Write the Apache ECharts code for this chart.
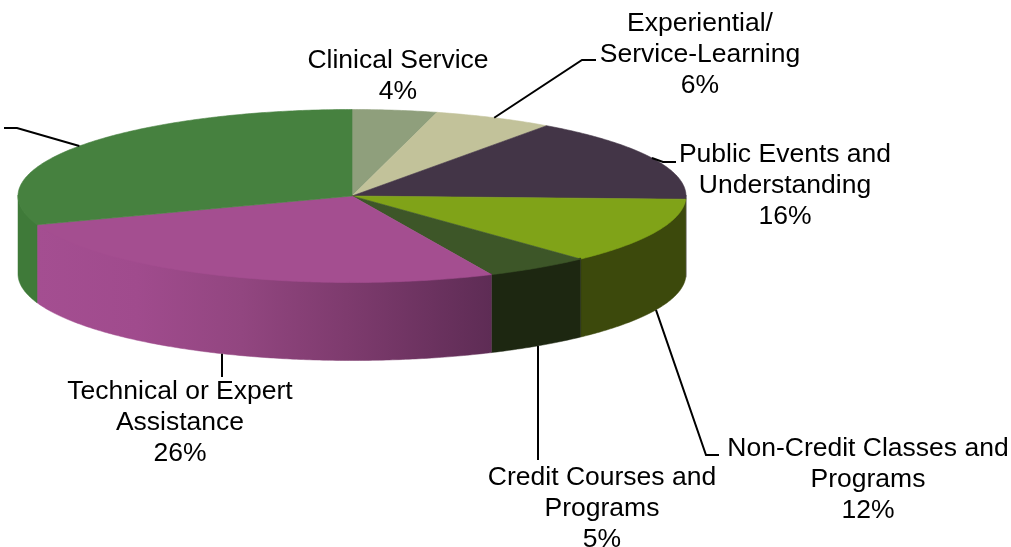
<!DOCTYPE html>
<html>
<head>
<meta charset="utf-8">
<style>
  html, body { margin: 0; padding: 0; background: #fff; }
  #main { width: 1011px; height: 547px; }
</style>
</head>
<body>
<div id="main"></div>
<script src="https://cdn.jsdelivr.net/npm/echarts@6/dist/echarts.min.js"></script>
<script>
// slices go clockwise from 12 o'clock. last label runs off the left edge in the original, no text visible
var categories = [
  "Clinical Service",
  "Experiential/\nService-Learning",
  "Public Events and\nUnderstanding",
  "Non-Credit Classes and\nPrograms",
  "Credit Courses and\nPrograms",
  "Technical or Expert\nAssistance",
  ""
];
// estimated from the slice edges, they round to the printed percentages
var values = [4.1, 5.8, 15.7, 12.4, 5.15, 26.45, 30.4];
var topColors = ["#8f9f7c", "#c2c29a", "#433547", "#80a318", "#3d5628", "#a44e90", "#46813f"];
var wallColors = ["#6f7c60", "#97977a", "#33283a", "#3c490c", "#1d2711", null, "#3f7a39"];

// magenta wall is shaded left to right
var techWallStops = [
  { offset: 0, color: "#a44e91" },
  { offset: 0.22, color: "#a04b8d" },
  { offset: 0.45, color: "#924680" },
  { offset: 0.68, color: "#7e3b6e" },
  { offset: 1, color: "#5e2c55" }
];

// pie projection
var cx = 352, cy = 196, rx = 334, ry = 86.5, depth = 78;

// label centres and leader elbows, same order as categories
var labelCenters = [[398, 76], [700, 55], [785, 186], [868, 480], [602, 509], [180, 423], null];
var leaderBends = [
  null,
  [[582, 60], [596, 60]],
  [[663, 162], [676, 162]],
  [[706, 455], [719, 455]],
  [[538, 460]],
  [[222, 377]],
  [[17, 128], [4, 128]]
];
// these two drop straight down, so the start is taken on the rim under the bend
var verticalLeader = [false, false, false, false, true, true, false];

var total = values.reduce(function (a, b) { return a + b; }, 0);
var startAngles = [];
values.reduce(function (sum, v, i) {
  startAngles[i] = (sum / total) * Math.PI * 2;
  return sum + v;
}, 0);

function rimPoint(angle, dy) {
  return [cx + rx * Math.sin(angle), cy - ry * Math.cos(angle) + (dy || 0)];
}

function arcPoints(a0, a1, dy) {
  var steps = Math.max(2, Math.ceil((a1 - a0) / 0.01));
  var pts = [];
  for (var i = 0; i <= steps; i++) {
    pts.push(rimPoint(a0 + ((a1 - a0) * i) / steps, dy));
  }
  return pts;
}

function renderSlice(params, api) {
  var i = params.dataIndex;
  var a0 = startAngles[i];
  var a1 = a0 + (api.value(0) / total) * Math.PI * 2;
  var children = [];

  // front wall, only the part between 3 and 9 o'clock faces us
  var w0 = Math.max(a0, Math.PI / 2);
  var w1 = Math.min(a1, (Math.PI * 3) / 2);
  if (w1 > w0) {
    var wallFill = wallColors[i] || {
      type: "linear", x: 0, y: 0, x2: 1, y2: 0, colorStops: techWallStops
    };
    children.push({
      type: "polygon",
      shape: { points: arcPoints(w0, w1, -1).concat(arcPoints(w0, w1, depth).reverse()) },
      style: { fill: wallFill, stroke: wallFill, lineWidth: 0.5 }
    });
  }

  // top face
  children.push({
    type: "polygon",
    shape: { points: [[cx, cy]].concat(arcPoints(a0, a1, 0)) },
    style: { fill: topColors[i], stroke: topColors[i], lineWidth: 0.6 }
  });

  // leader line starts at the middle of the slice on the rim
  var mid = (a0 + a1) / 2;
  var facingUs = Math.cos(mid) < 0;
  var start = rimPoint(mid, facingUs ? depth : 0);
  if (verticalLeader[i]) {
    var bx = leaderBends[i][0][0];
    var t = (bx - cx) / rx;
    start = [bx, cy + depth + ry * Math.sqrt(1 - t * t)];
  }
  if (leaderBends[i]) {
    children.push({
      type: "polyline",
      shape: { points: [start].concat(leaderBends[i]) },
      style: { fill: null, stroke: "#000", lineWidth: 2 }
    });
  }

  if (labelCenters[i]) {
    children.push({
      type: "text",
      style: {
        x: labelCenters[i][0],
        y: labelCenters[i][1],
        text: categories[i] + "\n" + Math.round(api.value(0)) + "%",
        fill: "#000",
        font: '26.5px "Liberation Sans", Arial, sans-serif',
        lineHeight: 31,
        align: "center",
        verticalAlign: "middle"
      }
    });
  }

  return { type: "group", children: children };
}

var myChart = echarts.init(document.getElementById("main"));
var option = {
  backgroundColor: "#fff",
  animation: false,
  series: [
    {
      type: "custom",
      coordinateSystem: "none",
      silent: true,
      renderItem: renderSlice,
      data: values
    }
  ]
};
myChart.setOption(option);
</script>
</body>
</html>
